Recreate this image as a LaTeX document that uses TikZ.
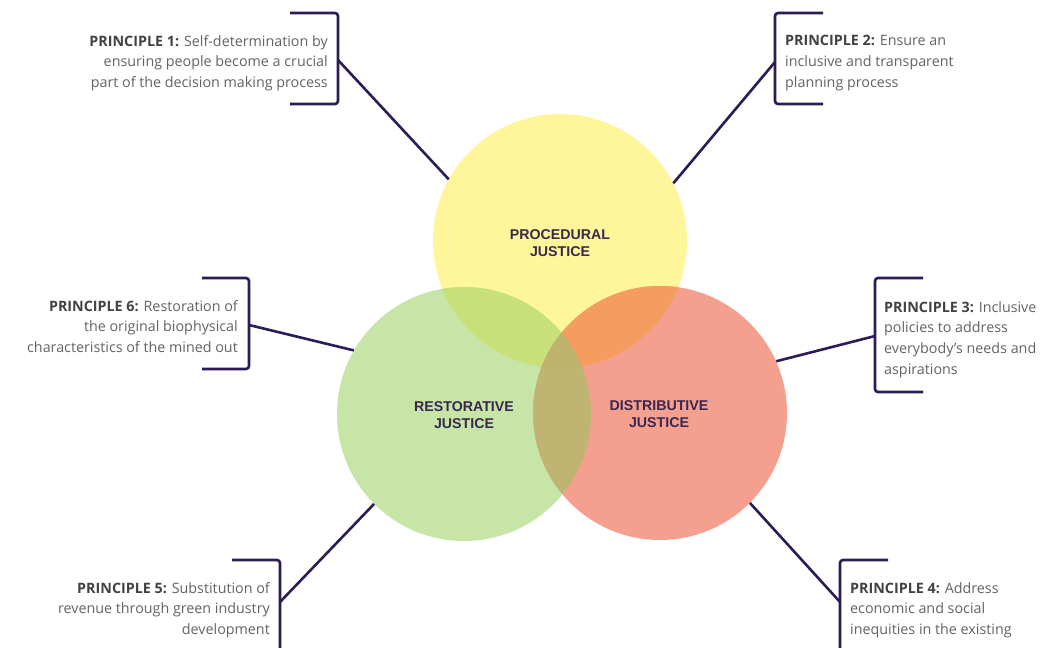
\documentclass[tikz,border=0pt]{standalone}
\usepackage{fontspec}
\setmainfont{Open Sans}
\newfontfamily\labfont{Liberation Sans}
\definecolor{cyel}{HTML}{FFF59B}
\definecolor{cgrn}{HTML}{C6E5A6}
\definecolor{cred}{HTML}{F5A08F}
\definecolor{cyg}{HTML}{C8E07A}
\definecolor{cyr}{HTML}{F59C61}
\definecolor{cgr}{HTML}{C0B473}
\definecolor{cygr}{HTML}{BEB26C}
\definecolor{cline}{HTML}{2D1B58}
\definecolor{txtgray}{HTML}{636363}
\definecolor{txtbold}{HTML}{414141}
\definecolor{labcol}{HTML}{3A2750}
\begin{document}
\begin{tikzpicture}[x=1pt,y=-1pt,
  circ/.style={circle,minimum size=254pt,inner sep=0pt,draw=none},
  conn/.style={draw=cline,line width=2.6pt},
  brk/.style={draw=cline,line width=2.6pt,rounded corners=3pt},
  ptext/.style={font=\fontsize{14.3}{20.8}\selectfont,text=txtgray,inner sep=0pt},
  jlab/.style={font=\labfont\bfseries\fontsize{14.2}{17}\selectfont,text=labcol,align=center,inner sep=0pt}]
\useasboundingbox (0,0) rectangle (1056,647);
\fill[white] (0,0) rectangle (1056,647);
% circles
\node[circ] (proc) at (560,241) {};
\node[circ] (rest) at (464,414) {};
\node[circ] (dist) at (660,413) {};
\fill[cyel] (proc.center) circle (127);
\fill[cgrn] (rest.center) circle (127);
\fill[cred] (dist.center) circle (127);
\begin{scope}
  \clip (proc.center) circle (127);
  \fill[cyg] (rest.center) circle (127);
  \fill[cyr] (dist.center) circle (127);
\end{scope}
\begin{scope}
  \clip (rest.center) circle (127);
  \fill[cgr] (dist.center) circle (127);
  \clip (dist.center) circle (127);
  \fill[cygr] (proc.center) circle (127);
\end{scope}
% circle labels
\node[jlab] (lproc) at (560,243) {PROCEDURAL\\JUSTICE};
\node[jlab] (lrest) at (464,415) {RESTORATIVE\\JUSTICE};
\node[jlab] (ldist) at (659,414) {DISTRIBUTIVE\\JUSTICE};
% brackets
\draw[brk] (290,13) -- (338,13) -- (338,104) -- (290,104);
\coordinate (b1) at (338,60);
\draw[brk] (823,13) -- (775,13) -- (775,104) -- (823,104);
\coordinate (b2) at (775,62);
\draw[brk] (202,278) -- (249,278) -- (249,369) -- (202,369);
\coordinate (b6) at (249,325);
\draw[brk] (923,278) -- (875,278) -- (875,392) -- (923,392);
\coordinate (b3) at (875,336);
\draw[brk] (232,560) -- (280,560) -- (280,650);
\coordinate (b5) at (280,602);
\draw[brk] (888,560) -- (840,560) -- (840,650);
\coordinate (b4) at (840,602);
% connectors
\draw[conn] (b1) -- (proc.151);
\draw[conn] (b2) -- (proc.27);
\draw[conn] (b6) -- (rest.150);
\draw[conn] (b5) -- (rest.225);
\draw[conn] (b3) -- (dist.24);
\draw[conn] (b4) -- (dist.-45);
% texts
\node[ptext,anchor=north east,align=right] (t1) at (328,35)
  {\textbf{\color{txtbold}PRINCIPLE 1:} Self-determination by\\ensuring people become a crucial\\part of the decision making process};
\node[ptext,anchor=north west,align=left] (t2) at (785,35)
  {\textbf{\color{txtbold}PRINCIPLE 2:} Ensure an\\inclusive and transparent\\planning process};
\node[ptext,anchor=north east,align=right] (t6) at (238,300)
  {\textbf{\color{txtbold}PRINCIPLE 6:} Restoration of\\the original biophysical\\characteristics of the mined out};
\node[ptext,anchor=north west,align=left] (t3) at (884,301)
  {\textbf{\color{txtbold}PRINCIPLE 3:} Inclusive\\policies to address\\everybody's needs and\\aspirations};
\node[ptext,anchor=north east,align=right] (t5) at (270,582)
  {\textbf{\color{txtbold}PRINCIPLE 5:} Substitution of\\revenue through green industry\\development};
\node[ptext,anchor=north west,align=left] (t4) at (850,582)
  {\textbf{\color{txtbold}PRINCIPLE 4:} Address\\economic and social\\inequities in the existing};
\end{tikzpicture}
\end{document}
